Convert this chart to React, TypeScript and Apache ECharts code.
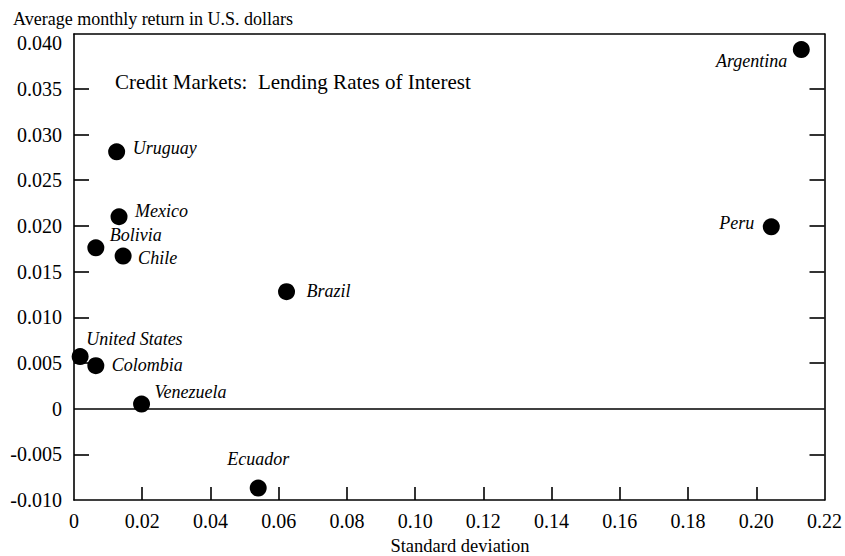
import React, { useEffect, useRef } from "react";
import * as echarts from "echarts";

const countries = ["Argentina", "Peru", "Brazil", "Uruguay", "Mexico", "Bolivia", "Chile", "United States", "Colombia", "Venezuela", "Ecuador"];
const stdDev = [0.2132, 0.2044, 0.0623, 0.0125, 0.0132, 0.0064, 0.0144, 0.0018, 0.0064, 0.0198, 0.054];
const avgReturn = [0.0393, 0.0199, 0.0128, 0.0281, 0.021, 0.0176, 0.0167, 0.0057, 0.0047, 0.0005, -0.0087];

const xTickLabels = [0, 0.02, 0.04, 0.06, 0.08, 0.1, 0.12, 0.14, 0.16, 0.18, 0.2, 0.22];
const xTickMarks = [0.02, 0.04, 0.06, 0.08, 0.1, 0.12, 0.14, 0.16, 0.18, 0.2];
const yTickLabels = [-0.01, -0.005, 0, 0.005, 0.01, 0.015, 0.02, 0.025, 0.03, 0.035, 0.04];
const yTickMarks = [-0.005, 0.005, 0.01, 0.015, 0.02, 0.025, 0.03, 0.035];

const yAxisTitle = "Average monthly return in U.S. dollars";
const xAxisTitle = "Standard deviation";
const chartTitle = "Credit Markets:  Lending Rates of Interest";

// label placement relative to the dot centre: [dx, dy, align]
const labelPlacement: Record<string, [number, number, string]> = {
  Argentina: [-14, 11, "right"],
  Peru: [-17, -4, "right"],
  Brazil: [20, -1, "left"],
  Uruguay: [16, -4, "left"],
  Mexico: [16, -6, "left"],
  Bolivia: [14, -13, "left"],
  Chile: [15, 2, "left"],
  "United States": [6, -18, "left"],
  Colombia: [16, -1, "left"],
  Venezuela: [13, -12, "left"],
  Ecuador: [0, -29, "center"],
};

const SERIF = "'Liberation Serif', 'DejaVu Serif', serif";
const SYM = 17;

export default function App() {
  const ref = useRef<HTMLDivElement>(null);
  useEffect(() => {
    if (!ref.current) return;
    const chart = echarts.init(ref.current, undefined, { renderer: "svg" });
    const data = countries.map((name, i) => {
      const [dx, dy, align] = labelPlacement[name];
      return {
        name,
        value: [stdDev[i], avgReturn[i]],
        label: {
          show: true,
          formatter: name,
          position: [SYM / 2 + dx, SYM / 2 + dy],
          align,
          verticalAlign: "middle",
        },
      };
    });
    const fmtY = (v: number) => (Math.abs(v) < 1e-9 ? "0" : v.toFixed(3));
    const fmtX = (v: number) => (Math.abs(v) < 1e-9 ? "0" : v.toFixed(2));
    const lineStyle = { color: "#000", width: 1.6 };
    chart.setOption({
      animation: false,
      backgroundColor: "#fff",
      textStyle: { fontFamily: SERIF },
      grid: { left: 74, right: 20, top: 34, bottom: 56, containLabel: false },
      xAxis: [
        {
          type: "value",
          min: 0,
          max: 0.22,
          interval: 0.02,
          position: "bottom",
          axisLine: { show: true, onZero: false, lineStyle },
          axisTick: { show: true, inside: true, length: 13, lineStyle, customValues: xTickMarks },
          axisLabel: { color: "#000", fontSize: 20, fontFamily: SERIF, margin: 11, formatter: fmtX, customValues: xTickLabels },
          splitLine: { show: false },
        },
        {
          type: "value",
          min: 0,
          max: 0.22,
          position: "top",
          axisLine: { show: true, onZero: false, lineStyle },
          axisTick: { show: false },
          axisLabel: { show: false },
          splitLine: { show: false },
        },
      ],
      yAxis: [
        {
          type: "value",
          min: -0.01,
          max: 0.041,
          interval: 0.005,
          position: "left",
          axisLine: { show: true, onZero: false, lineStyle },
          axisTick: { show: true, inside: true, length: 15, lineStyle, customValues: yTickMarks },
          axisLabel: { color: "#000", fontSize: 20, fontFamily: SERIF, margin: 12, formatter: fmtY, customValues: yTickLabels },
          splitLine: { show: false },
        },
        {
          type: "value",
          min: -0.01,
          max: 0.041,
          interval: 0.005,
          position: "right",
          axisLine: { show: true, onZero: false, lineStyle },
          axisTick: { show: true, inside: true, length: 15, lineStyle, customValues: yTickMarks },
          axisLabel: { show: false },
          splitLine: { show: false },
        },
      ],
      series: [
        {
          type: "scatter",
          xAxisIndex: 0,
          yAxisIndex: 0,
          symbol: "circle",
          symbolSize: SYM,
          itemStyle: { color: "#000", opacity: 1 },
          label: {
            color: "#000",
            fontSize: 18,
            fontStyle: "italic",
            fontFamily: SERIF,
          },
          data,
          markLine: {
            silent: true,
            symbol: "none",
            label: { show: false },
            lineStyle: { color: "#000", width: 1.6, type: "solid", opacity: 1 },
            data: [{ yAxis: 0 }],
          },
        },
      ],
      graphic: [
        {
          type: "text",
          left: 13,
          top: 10,
          style: { text: yAxisTitle, fontSize: 18, fontFamily: SERIF, fill: "#000" },
        },
        {
          type: "text",
          left: 115,
          top: 71,
          style: { text: chartTitle, fontSize: 21, fontFamily: SERIF, fill: "#000" },
        },
        {
          type: "text",
          x: 460,
          y: 546,
          style: { text: xAxisTitle, fontSize: 18.5, fontFamily: SERIF, fill: "#000", align: "center", verticalAlign: "middle" },
        },
      ],
    });
    return () => chart.dispose();
  }, []);
  return (
    <div
      ref={ref}
      style={{ position: "fixed", left: 0, top: 0, width: 845, height: 556, background: "#fff" }}
    />
  );
}
